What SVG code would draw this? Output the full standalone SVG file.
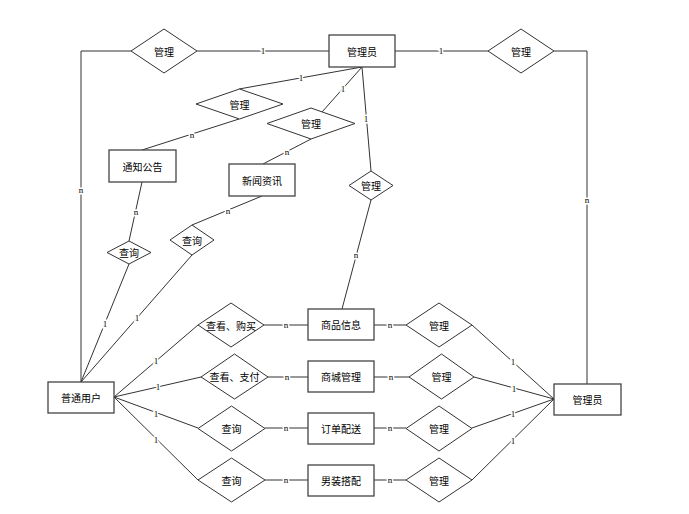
<svg xmlns="http://www.w3.org/2000/svg" width="689" height="514" viewBox="0 0 689 514">
<style>
.bg{fill:#fff}
.ent rect{fill:#fff;stroke:#444;stroke-width:1.3}
.rel polygon{fill:#fff;stroke:#333;stroke-width:1}
.t{font-family:"Noto Sans CJK SC","Liberation Sans",sans-serif;font-size:10px;fill:#000;text-anchor:middle;dominant-baseline:central}
.conn path{fill:none;stroke:#333;stroke-width:1}
.lb{font-family:"Liberation Serif",serif;font-size:9px;fill:#000;text-anchor:middle;dominant-baseline:central;stroke:#fff;stroke-width:3;paint-order:stroke}
</style>
<rect class="bg" x="0" y="0" width="689" height="514"/>
<g class="conn" id="connectors">
<path d="M81,382 L81,51 L131,51"/>
<path d="M197,51 L329,51"/>
<path d="M395,51 L488,51"/>
<path d="M554,51 L587,51 L587,384"/>
<path d="M362,67 L239,89"/>
<path d="M239,119 L142,150"/>
<path d="M362,67 L322,112"/>
<path d="M311,139 L263,164"/>
<path d="M362,67 L371,171"/>
<path d="M371,200 L342,309"/>
<path d="M142,182 L129,241"/>
<path d="M129,264 L81,382"/>
<path d="M262,196 L192,225"/>
<path d="M192,255 L81,382"/>
<path d="M114,397 L198,325"/>
<path d="M114,397 L201,377"/>
<path d="M114,397 L198,428"/>
<path d="M114,397 L198,480"/>
<path d="M264,325 L308,325"/>
<path d="M268,377 L308,377"/>
<path d="M265,428 L308,428"/>
<path d="M265,480 L308,480"/>
<path d="M374,325 L406,325"/>
<path d="M374,377 L409,377"/>
<path d="M374,428 L406,428"/>
<path d="M374,480 L406,480"/>
<path d="M472,325 L554,399"/>
<path d="M474,377 L554,399"/>
<path d="M472,428 L554,399"/>
<path d="M472,480 L554,399"/>
<text class="lb" x="81" y="190">n</text>
<text class="lb" x="263" y="51">1</text>
<text class="lb" x="441" y="51">1</text>
<text class="lb" x="587" y="200">n</text>
<text class="lb" x="301" y="78">1</text>
<text class="lb" x="192" y="135">n</text>
<text class="lb" x="343" y="89">1</text>
<text class="lb" x="287" y="152">n</text>
<text class="lb" x="366" y="119">1</text>
<text class="lb" x="356" y="255">n</text>
<text class="lb" x="136" y="212">n</text>
<text class="lb" x="105" y="324">1</text>
<text class="lb" x="228" y="211">n</text>
<text class="lb" x="137" y="318">1</text>
<text class="lb" x="156" y="361">1</text>
<text class="lb" x="158" y="387">1</text>
<text class="lb" x="156" y="414">1</text>
<text class="lb" x="156" y="440">1</text>
<text class="lb" x="286" y="325">n</text>
<text class="lb" x="287" y="377">n</text>
<text class="lb" x="286" y="428">n</text>
<text class="lb" x="286" y="480">n</text>
<text class="lb" x="390" y="325">n</text>
<text class="lb" x="391" y="377">n</text>
<text class="lb" x="390" y="428">n</text>
<text class="lb" x="390" y="480">n</text>
<text class="lb" x="513" y="362">1</text>
<text class="lb" x="514" y="389">1</text>
<text class="lb" x="513" y="414">1</text>
<text class="lb" x="513" y="441">1</text>
</g>
<g id="admin-top" class="ent"><rect x="329" y="35" width="66" height="32"/><text class="t" x="362" y="51">管理员</text></g>
<g id="admin-right" class="ent"><rect x="554" y="384" width="67" height="31"/><text class="t" x="587.5" y="399.5">管理员</text></g>
<g id="user" class="ent"><rect x="48" y="382" width="66" height="31"/><text class="t" x="81" y="397.5">普通用户</text></g>
<g id="notice" class="ent"><rect x="109" y="150" width="67" height="32"/><text class="t" x="142.5" y="166">通知公告</text></g>
<g id="news" class="ent"><rect x="229" y="164" width="66" height="32"/><text class="t" x="262" y="180">新闻资讯</text></g>
<g id="goods" class="ent"><rect x="308" y="309" width="66" height="31"/><text class="t" x="341" y="324.5">商品信息</text></g>
<g id="mall" class="ent"><rect x="308" y="361" width="66" height="31"/><text class="t" x="341" y="376.5">商城管理</text></g>
<g id="order" class="ent"><rect x="308" y="413" width="66" height="31"/><text class="t" x="341" y="428.5">订单配送</text></g>
<g id="outfit" class="ent"><rect x="308" y="465" width="66" height="31"/><text class="t" x="341" y="480.5">男装搭配</text></g>
<g id="rel-manage-user" class="rel"><polygon points="164,29 197,51 164,73 131,51"/><text class="t" x="164" y="51">管理</text></g>
<g id="rel-manage-right" class="rel"><polygon points="521,29 554,51 521,73 488,51"/><text class="t" x="521" y="51">管理</text></g>
<g id="rel-manage-notice" class="rel"><polygon points="239.5,89 283,104 239.5,119 196,104"/><text class="t" x="239.5" y="104">管理</text></g>
<g id="rel-manage-news" class="rel"><polygon points="311,108 355,123.5 311,139 267,123.5"/><text class="t" x="311" y="123.5">管理</text></g>
<g id="rel-manage-goods" class="rel"><polygon points="371,171 393,185.5 371,200 349,185.5"/><text class="t" x="371" y="185.5">管理</text></g>
<g id="rel-query-notice" class="rel"><polygon points="129,241 151,252.5 129,264 107,252.5"/><text class="t" x="129" y="252.5">查询</text></g>
<g id="rel-query-news" class="rel"><polygon points="192,225 214,240 192,255 170,240"/><text class="t" x="192" y="240">查询</text></g>
<g id="rel-view-buy" class="rel"><polygon points="231,303 264,325 231,347 198,325"/><text class="t" x="231" y="325">查看、购买</text></g>
<g id="rel-view-pay" class="rel"><polygon points="234.5,354 268,377 234.5,399 201,377"/><text class="t" x="234.5" y="376.5">查看、支付</text></g>
<g id="rel-query-order" class="rel"><polygon points="231.5,406 265,428.5 231.5,451 198,428.5"/><text class="t" x="231.5" y="428.5">查询</text></g>
<g id="rel-query-outfit" class="rel"><polygon points="231.5,458 265,480 231.5,502 198,480"/><text class="t" x="231.5" y="480">查询</text></g>
<g id="rel-manage-r1" class="rel"><polygon points="439,303 472,325 439,347 406,325"/><text class="t" x="439" y="325">管理</text></g>
<g id="rel-manage-r2" class="rel"><polygon points="441.5,354 474,377 441.5,399 409,377"/><text class="t" x="441.5" y="376.5">管理</text></g>
<g id="rel-manage-r3" class="rel"><polygon points="439,406 472,428.5 439,451 406,428.5"/><text class="t" x="439" y="428.5">管理</text></g>
<g id="rel-manage-r4" class="rel"><polygon points="439,458 472,480 439,502 406,480"/><text class="t" x="439" y="480">管理</text></g>
</svg>
